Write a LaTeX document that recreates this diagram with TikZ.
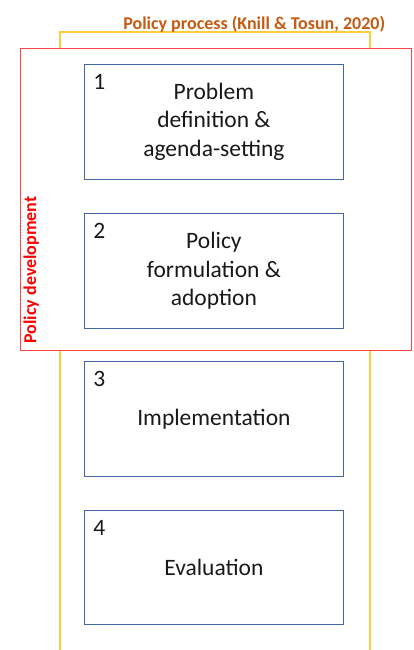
\documentclass[tikz,border=0pt]{standalone}
\usepackage{fontspec}
\setmainfont{Carlito}
\begin{document}
\begin{tikzpicture}[x=1pt,y=-1pt,
  stagebox/.style={draw=boxblue, line width=1pt, minimum width=258.6pt, minimum height=114.5pt,
    inner sep=0pt, align=center, font=\fontsize{23.5}{28.7}\selectfont, text=textgray},
  stagenum/.style={anchor=base west, inner sep=0pt, font=\fontsize{23.5}{28.7}\selectfont, text=textgray},
  frametitle/.style={inner sep=0pt, font=\fontsize{18}{22}\selectfont\bfseries}
]
\definecolor{boxblue}{RGB}{68,102,168}
\definecolor{framegold}{RGB}{255,204,60}
\definecolor{framered}{RGB}{255,70,70}
\definecolor{titlebrown}{RGB}{197,90,17}
\definecolor{labelred}{RGB}{255,0,0}
\definecolor{textgray}{RGB}{25,25,25}

\useasboundingbox (0,0) rectangle (414,650);
\clip (0,0) rectangle (414,650);

% outer frame: whole policy process (open at the bottom)
\draw[framegold, line width=1.8pt] (59.8,660) -- (59.8,32.3) -- (370,32.3) -- (370,660);
\node[frametitle, text=titlebrown, anchor=base] (ptitle) at (254.2,29.3) {Policy process (Knill \& Tosun, 2020)};

% inner frame: policy development (stages 1 and 2), white-filled over the outer frame
\draw[framered, fill=white, line width=1pt] (20.7,48.6) rectangle (411.7,350.5);
\node[frametitle, text=labelred, rotate=90, anchor=base] (pdev) at (36,270) {Policy development};

% stages
\node[stagebox] (s1) at (213.9,121.8) {Problem\\definition \&\\agenda-setting};
\node[stagebox] (s2) at (213.9,271.0) {Policy\\formulation \&\\adoption};
\node[stagebox] (s3) at (213.9,419.0) {Implementation};
\node[stagebox] (s4) at (213.9,567.3) {Evaluation};

\foreach \s/\n in {s1/1, s2/2, s3/3, s4/4}
  \node[stagenum] (n\s) at ([xshift=9pt,yshift=-25.7pt]\s.north west) {\n};
\end{tikzpicture}
\end{document}
